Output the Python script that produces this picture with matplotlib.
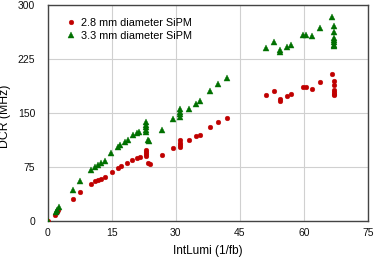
import matplotlib
matplotlib.use("Agg")
import matplotlib.pyplot as plt

plt.rcParams['font.family'] = ['Liberation Sans', 'DejaVu Sans']

red_x = [0, 1.8, 2.1, 2.4, 6.0, 7.6, 10.1, 11.1, 11.9, 12.6, 13.4, 15.0, 16.5, 17.2, 18.5, 19.8, 20.9, 21.6,
         23.0, 23.0, 23.0, 23.0, 23.6, 23.9, 26.9, 29.4, 30.9, 31.0, 31.0, 31.0, 33.2, 34.7, 35.7, 38.0, 40.0, 42.1,
         51.2, 53.1, 54.4, 54.4, 56.0, 57.0, 59.9, 60.5, 61.9, 63.8, 66.6, 67.0, 67.0, 67.0, 67.0, 67.0, 67.0]
red_y = [0, 9, 12, 16, 31, 40, 51, 55, 57, 59, 61, 68, 74, 76, 81, 85, 88, 89,
         90, 93, 96, 99, 81, 79, 92, 101, 103, 106, 109, 112, 112, 118, 120, 130, 137, 143,
         175, 180, 167, 170, 174, 176, 186, 186, 184, 193, 204, 194, 189, 182, 179, 177, 175]

green_x = [0, 2.0, 2.3, 2.6, 6.0, 7.6, 10.1, 11.2, 11.9, 12.6, 13.4, 14.8, 16.4, 16.9, 18.1, 18.8, 20.1, 20.9,
           21.5, 23.0, 23.0, 23.0, 23.0, 23.0, 23.5, 23.7, 26.9, 29.4, 30.9, 31.0, 31.0, 31.0, 33.2, 34.7, 35.7,
           38.0, 40.0, 42.1,
           51.2, 53.1, 54.4, 54.4, 56.1, 57.0, 59.9, 60.5, 61.9, 63.8, 66.6, 67.0, 67.0, 67.0, 67.0, 67.0, 67.0, 67.0]
green_y = [0, 12, 16, 20, 43, 55, 71, 75, 78, 80, 83, 95, 103, 105, 110, 113, 119, 122,
           124, 124, 127, 130, 133, 137, 113, 111, 127, 141, 145, 148, 151, 155, 156, 162, 166,
           180, 190, 199,
           240, 249, 234, 237, 241, 244, 258, 258, 257, 268, 283, 271, 263, 254, 251, 248, 245, 243]

xticks = [0, 15, 30, 45, 60, 75]
yticks = [0, 75, 150, 225, 300]

fig = plt.figure(figsize=(3.75, 2.58), dpi=100)
ax = fig.add_axes([0.127, 0.143, 0.854, 0.838])

ax.plot(red_x, red_y, 'o', color='#c00000', markersize=3.4, markeredgewidth=0.3,
        markeredgecolor='#c00000', label='2.8 mm diameter SiPM', zorder=3)
ax.plot(green_x, green_y, '^', color='#007000', markersize=4.4, markeredgewidth=0.3,
        markeredgecolor='#007000', label='3.3 mm diameter SiPM', zorder=3)

ax.set_xlim(0, 75)
ax.set_ylim(0, 300)
ax.set_xticks(xticks)
ax.set_yticks(yticks)
ax.grid(True, color='#d0d0d0', linewidth=0.8)
ax.set_axisbelow(True)
ax.tick_params(axis='y', length=0, labelsize=7.5, pad=9, colors='#111111')
ax.tick_params(axis='x', length=0, labelsize=7.5, pad=5, colors='#111111')
for s in ax.spines.values():
    s.set_color('#444444')
    s.set_linewidth(1.0)

ax.set_xlabel('IntLumi (1/fb)', fontsize=8.5, labelpad=5)
ax.set_ylabel('DCR (MHz)', fontsize=8.8, va='center')
ax.yaxis.set_label_coords(-0.132, 0.484)

leg = ax.legend(loc='upper left', frameon=False, fontsize=7.8, handlelength=0.8,
                handletextpad=0.5, borderaxespad=0.5, labelspacing=0.25,
                bbox_to_anchor=(0.03, 0.985))

fig.savefig('out.png', dpi=100)
